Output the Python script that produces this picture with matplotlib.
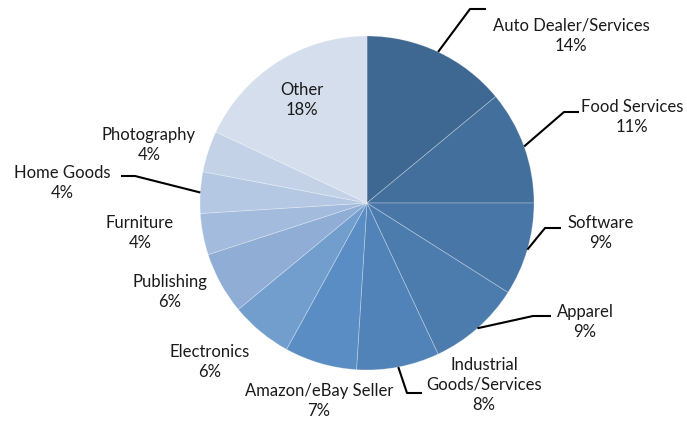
import numpy as np
import matplotlib
matplotlib.use("Agg")
import matplotlib.pyplot as plt

plt.rcParams['font.family'] = ['Lato', 'DejaVu Sans']

categories = ["Auto Dealer/Services", "Food Services", "Software", "Apparel",
              "Industrial\nGoods/Services", "Amazon/eBay Seller", "Electronics",
              "Publishing", "Furniture", "Home Goods", "Photography", "Other"]
shares = [14, 11, 9, 9, 8, 7, 6, 6, 4, 4, 4, 18]
colors = ["#3E6891", "#436F9C", "#4876A6", "#4C7CAE", "#5283B8", "#5A8DC3",
          "#729ECD", "#8FADD5", "#A3BBDC", "#B4C7E3", "#C4D2E8", "#D5DEED"]

W, H = 687, 422
fig = plt.figure(figsize=(W / 100, H / 100), dpi=100)
ax = fig.add_axes([0, 0, 1, 1])

# work in pixel units measured from the top-left corner
cx, cy, r = 367, 203, 167
ax.pie(shares, colors=colors, startangle=90, counterclock=False,
       center=(cx, H - cy), radius=r,
       wedgeprops=dict(edgecolor=(1, 1, 1, 0.3), linewidth=0.6))
ax.set_xlim(0, W)
ax.set_ylim(0, H)
ax.set_aspect("equal")
ax.axis("off")

# text centers and leader paths (elbow, end) in the same pixel units
label_pos = [
    (571, 36), (632, 117), (601, 233), (585, 322), (484, 385), (319, 401),
    (210, 362), (170, 292), (140, 233), (62, 183), (149, 145), (302, 100),
]
leaders = {
    0: [(470, 9), (486, 9)],
    1: [(564, 112), (579, 112)],
    2: [(545, 228), (561, 228)],
    3: [(533, 316), (551, 316)],
    4: [(407, 393), (422, 393)],
    9: [(135, 176), (121, 176)],
}

total = sum(shares)
start = 90.0
for i, (name, v) in enumerate(zip(categories, shares)):
    span = 360.0 * v / total
    mid = np.deg2rad(start - span / 2)
    start -= span
    x, y = label_pos[i]
    ax.text(x, H - y, f"{name}\n{v}%", ha="center", va="center",
            fontsize=12, color="#1a1a1a", linespacing=1.32)
    if i in leaders:
        ex, ey = cx + r * np.cos(mid), cy - r * np.sin(mid)
        pts = [(ex, ey)] + leaders[i]
        xs = [p[0] for p in pts]
        ys = [H - p[1] for p in pts]
        ax.plot(xs, ys, color="black", lw=1.5, solid_capstyle="butt")

fig.savefig("out.png", dpi=100, facecolor="white")
